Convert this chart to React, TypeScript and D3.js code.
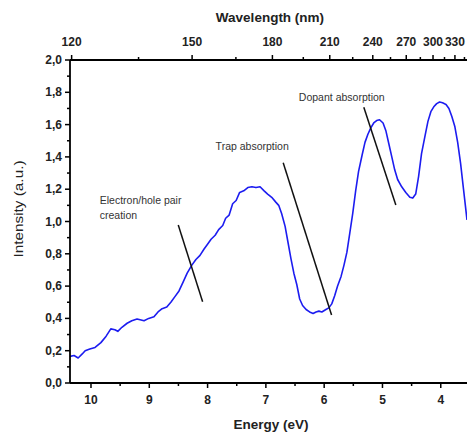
import React from "react";
import * as d3 from "d3";

const energy = [
  10.36, 10.29, 10.22, 10.15, 10.1, 10.02, 9.93, 9.83, 9.74, 9.66, 9.59, 9.54, 9.47, 9.38, 9.3, 9.21, 9.14, 9.09,
  9.01, 8.92, 8.85, 8.78, 8.7, 8.63, 8.56, 8.49, 8.42, 8.35, 8.27, 8.2, 8.13, 8.06, 8.01, 7.94, 7.87, 7.81, 7.74,
  7.69, 7.63, 7.57, 7.51, 7.45, 7.38, 7.31, 7.24, 7.17, 7.1, 7.03, 6.97, 6.9, 6.83, 6.78, 6.73, 6.67, 6.62, 6.57,
  6.52, 6.47, 6.42, 6.37, 6.31, 6.25, 6.19, 6.14, 6.09, 6.04, 5.97, 5.92, 5.87, 5.82, 5.77, 5.71, 5.66, 5.61, 5.56,
  5.51, 5.46, 5.41, 5.35, 5.3, 5.25, 5.2, 5.15, 5.1, 5.05, 4.99, 4.94, 4.89, 4.84, 4.79, 4.74, 4.67, 4.6, 4.53,
  4.48, 4.43, 4.38, 4.33, 4.27, 4.22, 4.17, 4.12, 4.07, 4.02, 3.97, 3.91, 3.86, 3.81, 3.76, 3.71, 3.66, 3.61, 3.55,
];
const intensity = [
  0.165, 0.17, 0.155, 0.18, 0.2, 0.21, 0.22, 0.25, 0.29, 0.335, 0.33, 0.32, 0.345, 0.37, 0.385, 0.396, 0.39, 0.385,
  0.4, 0.41, 0.44, 0.46, 0.47, 0.5, 0.535, 0.57, 0.625, 0.68, 0.73, 0.765, 0.79, 0.83, 0.855, 0.89, 0.915, 0.95, 0.975,
  1.02, 1.04, 1.11, 1.13, 1.18, 1.19, 1.21, 1.215, 1.21, 1.215, 1.19, 1.17, 1.15, 1.12, 1.1, 1.05, 0.97, 0.87, 0.77,
  0.68, 0.61, 0.52, 0.48, 0.455, 0.44, 0.43, 0.44, 0.445, 0.44, 0.455, 0.465, 0.49, 0.54, 0.6, 0.66, 0.73, 0.81, 0.93,
  1.05, 1.19, 1.31, 1.41, 1.49, 1.54, 1.58, 1.61, 1.625, 1.63, 1.61, 1.56, 1.48, 1.4, 1.32, 1.26, 1.215, 1.18, 1.15,
  1.145, 1.17, 1.28, 1.42, 1.53, 1.62, 1.68, 1.71, 1.73, 1.74, 1.735, 1.725, 1.7, 1.65, 1.59, 1.49, 1.36, 1.2, 1.01,
];

const energyTicks = [10, 9, 8, 7, 6, 5, 4];
const energyMinor = [9.5, 8.5, 7.5, 6.5, 5.5, 4.5];
const intensityTicks = [0, 0.2, 0.4, 0.6, 0.8, 1.0, 1.2, 1.4, 1.6, 1.8, 2.0];
const intensityMinor = [0.1, 0.3, 0.5, 0.7, 0.9, 1.1, 1.3, 1.5, 1.7, 1.9];
const wavelengthTicks = [120, 150, 180, 210, 240, 270, 300, 330];
const wavelengthMinor = [135, 165, 195, 225, 255, 285, 315, 345];
const HC = 1239.84;

const annotationLabels = [
  ["Electron/hole pair", "creation"],
  ["Trap absorption"],
  ["Dopant absorption"],
];
const annotationLabelAt = [
  [9.85, 1.108],
  [7.862, 1.443],
  [6.434, 1.746],
];
const annotationLines = [
  [[8.503, 0.978], [8.085, 0.503]],
  [[6.703, 1.364], [5.873, 0.421]],
  [[5.32, 1.707], [4.771, 1.102]],
];

export default function App() {
  const W = 467, H = 434;
  const left = 70, right = 467, top = 60, bottom = 383;
  const x = d3.scaleLinear().domain([10.36, 3.55]).range([left, right]);
  const y = d3.scaleLinear().domain([0, 2]).range([bottom, top]);
  const pts = energy.map((e, i) => [e, intensity[i]] as [number, number]);
  const line = d3.line<[number, number]>().x((d) => x(d[0])).y((d) => y(d[1]));
  const fmt = (v: number) => v.toFixed(1).replace(".", ",");
  const font = "'Liberation Sans', Arial, sans-serif";

  return (
    <div style={{ position: "absolute", left: 0, top: 0 }}>
      <svg width={W} height={H} style={{ display: "block", background: "#fff" }} fontFamily={font}>
        <defs>
          <clipPath id="plot">
            <rect x={left} y={top} width={right - left} height={bottom - top} />
          </clipPath>
        </defs>
        <path d={line(pts) || ""} fill="none" stroke="#1c1cf0" strokeWidth={1.6} clipPath="url(#plot)" strokeLinejoin="round" />

        {annotationLines.map((l, i) => (
          <line key={"al" + i} x1={x(l[0][0])} y1={y(l[0][1])} x2={x(l[1][0])} y2={y(l[1][1])} stroke="#111" strokeWidth={1.5} />
        ))}
        {annotationLabels.map((lines, i) => (
          <text key={"at" + i} x={x(annotationLabelAt[i][0])} y={y(annotationLabelAt[i][1])} fontSize={10.5} fill="#333">
            {lines.map((s, j) => (
              <tspan key={j} x={x(annotationLabelAt[i][0])} dy={j === 0 ? 0 : 15}>{s}</tspan>
            ))}
          </text>
        ))}

        {/* axes lines */}
        <line x1={left} y1={top} x2={right} y2={top} stroke="#000" strokeWidth={1.8} />
        <line x1={left} y1={bottom} x2={right} y2={bottom} stroke="#000" strokeWidth={1.8} />
        <line x1={left} y1={top} x2={left} y2={bottom} stroke="#000" strokeWidth={1.8} />

        {/* left axis */}
        {intensityTicks.map((v) => (
          <g key={"yt" + v}>
            <line x1={left - 5} x2={left} y1={y(v)} y2={y(v)} stroke="#000" strokeWidth={1.5} />
            <text x={left - 8} y={y(v) + 4} textAnchor="end" fontSize={12} fontWeight="bold" fill="#222">{fmt(v)}</text>
          </g>
        ))}
        {intensityMinor.map((v) => (
          <line key={"ym" + v} x1={left - 3} x2={left} y1={y(v)} y2={y(v)} stroke="#000" strokeWidth={1.5} />
        ))}

        {/* bottom axis */}
        {energyTicks.map((v) => (
          <g key={"xt" + v}>
            <line x1={x(v)} x2={x(v)} y1={bottom} y2={bottom + 5} stroke="#000" strokeWidth={1.5} />
            <text x={x(v)} y={bottom + 21} textAnchor="middle" fontSize={12} fontWeight="bold" fill="#222">{v}</text>
          </g>
        ))}
        {energyMinor.map((v) => (
          <line key={"xm" + v} x1={x(v)} x2={x(v)} y1={bottom} y2={bottom + 3} stroke="#000" strokeWidth={1.5} />
        ))}

        {/* top axis (wavelength) */}
        {wavelengthTicks.map((v) => (
          <g key={"wt" + v}>
            <line x1={x(HC / v)} x2={x(HC / v)} y1={top} y2={top - 5} stroke="#000" strokeWidth={1.5} />
            <text x={x(HC / v)} y={top - 14} textAnchor="middle" fontSize={12} fontWeight="bold" fill="#222">{v}</text>
          </g>
        ))}
        {wavelengthMinor.map((v) => (
          <line key={"wm" + v} x1={x(HC / v)} x2={x(HC / v)} y1={top} y2={top - 3} stroke="#000" strokeWidth={1.5} />
        ))}

        {/* titles */}
        <text x={270} y={22} textAnchor="middle" fontSize={13.5} fontWeight="bold" fill="#222">Wavelength (nm)</text>
        <text x={271} y={429} textAnchor="middle" fontSize={13.5} fontWeight="bold" fill="#222">Energy (eV)</text>
        <text transform={`translate(23,209) rotate(-90)`} textAnchor="middle" fontSize={13} fill="#222"
          textLength={97} lengthAdjust="spacingAndGlyphs">Intensity (a.u.)</text>
      </svg>
    </div>
  );
}
